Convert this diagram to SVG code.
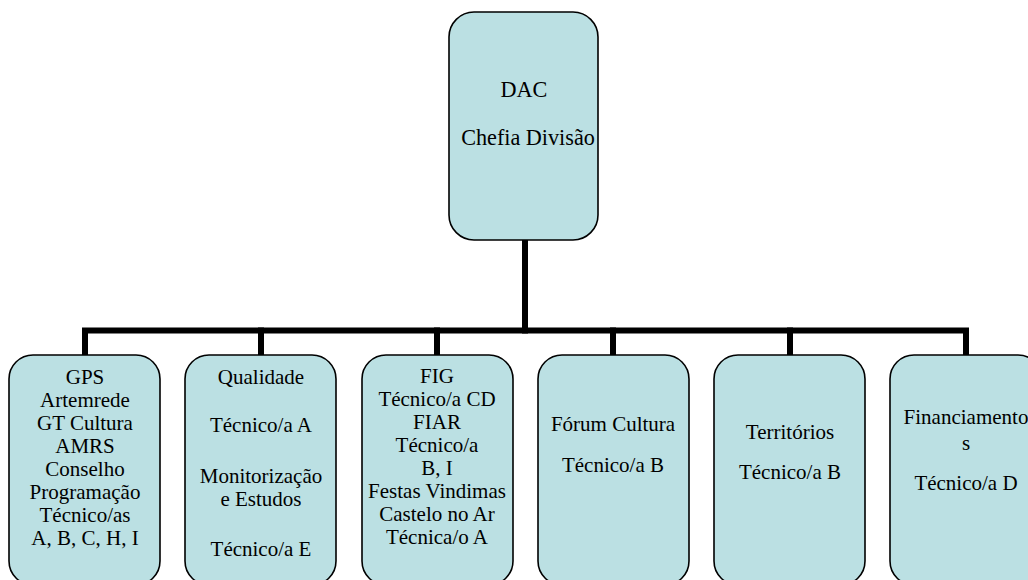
<svg xmlns="http://www.w3.org/2000/svg" width="1028" height="580" viewBox="0 0 1028 580">
  <style>
    .box { fill: #BBE0E3; stroke: #000; stroke-width: 1.6; }
    .wire { fill: none; stroke: #000; stroke-width: 6; stroke-linecap: square; stroke-linejoin: miter; }
    text { font-family: "Liberation Serif", "Times New Roman", serif; font-size: 21px; fill: #000; text-anchor: middle; }
    .top text { font-size: 22.2px; }
  </style>
  <rect width="1028" height="580" fill="#fff"/>

  <!-- connectors: trunk, bus bar and drops -->
  <g id="connectors" class="wire">
    <path d="M525 240 V330.5"/>
    <path d="M85 355 V330.5 H966 V355"/>
    <path d="M261 330.5 V355"/>
    <path d="M437 330.5 V355"/>
    <path d="M613 330.5 V355"/>
    <path d="M790 330.5 V355"/>
  </g>

  <g id="dac" class="top">
    <rect class="box" x="449" y="12" width="149" height="228" rx="25"/>
    <text x="524" y="97">DAC</text>
    <text x="528" y="145">Chefia Divisão</text>
  </g>

  <g id="gps">
    <rect class="box" x="9" y="355" width="151" height="230" rx="24"/>
    <text x="85" y="384">GPS</text>
    <text x="85" y="407">Artemrede</text>
    <text x="85" y="430">GT Cultura</text>
    <text x="85" y="453">AMRS</text>
    <text x="85" y="476">Conselho</text>
    <text x="85" y="499">Programação</text>
    <text x="85" y="522">Técnico/as</text>
    <text x="85" y="545">A, B, C, H, I</text>
  </g>

  <g id="qualidade">
    <rect class="box" x="185" y="355" width="151" height="230" rx="24"/>
    <text x="261" y="384">Qualidade</text>
    <text x="261" y="432">Técnico/a A</text>
    <text x="261" y="483">Monitorização</text>
    <text x="261" y="506">e Estudos</text>
    <text x="261" y="556">Técnico/a E</text>
  </g>

  <g id="fig">
    <rect class="box" x="362" y="355" width="151" height="230" rx="24"/>
    <text x="437" y="383">FIG</text>
    <text x="437" y="406">Técnico/a CD</text>
    <text x="437" y="429">FIAR</text>
    <text x="437" y="452">Técnico/a</text>
    <text x="437" y="475">B, I</text>
    <text x="437" y="498">Festas Vindimas</text>
    <text x="437" y="521">Castelo no Ar</text>
    <text x="437" y="544">Técnica/o A</text>
  </g>

  <g id="forum">
    <rect class="box" x="538" y="355" width="151" height="230" rx="24"/>
    <text x="613" y="431">Fórum Cultura</text>
    <text x="613" y="472">Técnico/a B</text>
  </g>

  <g id="territorios">
    <rect class="box" x="714" y="355" width="151" height="230" rx="24"/>
    <text x="790" y="439">Territórios</text>
    <text x="790" y="479">Técnico/a B</text>
  </g>

  <g id="financiamentos">
    <rect class="box" x="890" y="355" width="152" height="230" rx="24"/>
    <text x="966" y="424">Financiamento</text>
    <text x="966" y="450">s</text>
    <text x="966" y="490">Técnico/a D</text>
  </g>
</svg>
